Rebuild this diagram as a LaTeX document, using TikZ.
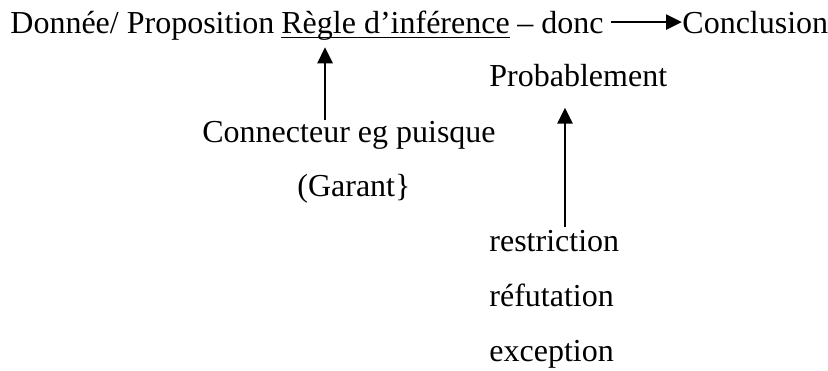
\documentclass[tikz,border=0pt]{standalone}
\usepackage{fontspec}
\setmainfont{Liberation Serif}
\usepackage{tikz}
\usetikzlibrary{arrows.meta}
\begin{document}
\begin{tikzpicture}[x=0.5pt,y=-0.5pt,
  txt/.style={inner sep=0pt,anchor=base west,font=\fontsize{16}{19}\selectfont},
  flech/.style={line width=1.4pt,-{Triangle[length=8pt,width=7.5pt]}}]
\useasboundingbox (0,0) rectangle (828,370);
\node[txt] (don) at (10,33) {Donnée/ Proposition}; \node[txt] (regle) at (281,33) {Règle d'inférence}; \node[txt] (donc) at (517,33) {– donc}; \node[txt] (concl) at (682,33) {Conclusion};
\node[txt] (prob) at (489,86) {Probablement}; \node[txt] (conn) at (202,142) {Connecteur eg puisque}; \node[txt] (gar) at (297,196) {(Garant\}};
\node[txt] (res) at (489,251) {restriction}; \node[txt] (ref) at (489,306) {réfutation}; \node[txt] (exc) at (489,361) {exception};
\coordinate (w1) at (325,0); \coordinate (w2) at (565,0);
\draw[line width=0.9pt] ([yshift=-2.2pt]regle.base west) -- ([yshift=-2.2pt]regle.base east);
\draw[flech] ([xshift=3.5pt]donc.east) -- (concl.west);
\draw[flech] (conn.north -| w1) -- ([yshift=-3.5pt]regle.south -| w1);
\draw[flech] ([yshift=1pt]res.north -| w2) -- ([yshift=-10.5pt]prob.south -| w2);
\end{tikzpicture}
\end{document}
